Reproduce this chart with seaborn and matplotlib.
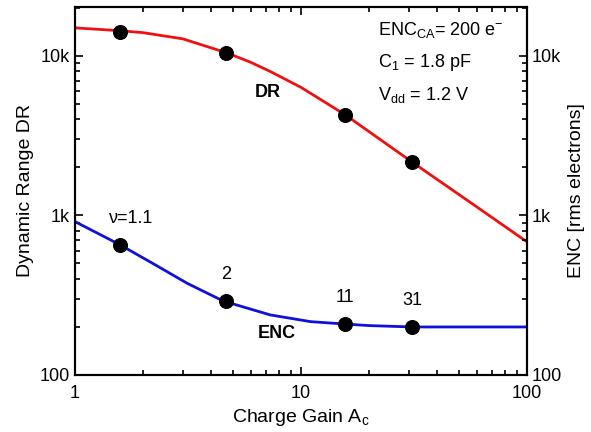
import numpy as np
import pandas as pd
import matplotlib
matplotlib.use("Agg")
import matplotlib.pyplot as plt
import matplotlib.ticker as mticker
import seaborn as sns

# curve values
dr_gain = [1, 1.58, 2, 3, 4.7, 5.95, 7.3, 10, 15.7, 31, 64, 100]
dr_curve = [15000, 14400, 14000, 12800, 10450, 9160, 8000, 6350, 4270, 2160, 1060, 682]
enc_gain = [1, 1.58, 2.21, 3.13, 4.52, 7.3, 11, 15.3, 20, 31, 50, 100]
enc_curve = [915, 655, 500, 376, 291, 238, 216, 209, 204, 200, 200, 200]

# measured points
gain_pts = [1.58, 4.66, 15.7, 31]
dr_pts = [14100, 10500, 4270, 2160]
enc_pts = [653, 291, 209, 200]
nu_labels = ["ν=1.1", "2", "11", "31"]

sns.set_style("ticks")
plt.rcParams['font.family'] = ['Liberation Sans', 'DejaVu Sans']
plt.rcParams['mathtext.fontset'] = 'custom'
plt.rcParams['mathtext.rm'] = 'Liberation Sans'
plt.rcParams['mathtext.it'] = 'Liberation Sans:italic'
for k in ['text.color', 'axes.labelcolor', 'xtick.color', 'ytick.color', 'axes.edgecolor']:
    plt.rcParams[k] = 'black'

fig = plt.figure(figsize=(5.91, 4.32), dpi=100)
ax = fig.add_axes([0.127, 0.132, 0.765, 0.852])
ax2 = ax.twinx()

dr_df = pd.DataFrame({"gain": dr_gain, "dr": dr_curve})
enc_df = pd.DataFrame({"gain": enc_gain, "enc": enc_curve})
pts = pd.DataFrame({"gain": gain_pts, "dr": dr_pts, "enc": enc_pts})

sns.lineplot(data=dr_df, x="gain", y="dr", color="#ee1111", linewidth=2, ax=ax)
sns.scatterplot(data=pts, x="gain", y="dr", color="black", s=100, edgecolor="black", ax=ax, zorder=3)
sns.lineplot(data=enc_df, x="gain", y="enc", color="#1010dd", linewidth=2, ax=ax2)
sns.scatterplot(data=pts, x="gain", y="enc", color="black", s=100, edgecolor="black", ax=ax2, zorder=3)

fmt = mticker.FuncFormatter(lambda v, p: {100: "100", 1000: "1k", 10000: "10k"}.get(int(round(v)), ""))
for a in (ax, ax2):
    a.set_xscale("log")
    a.set_yscale("log")
    a.set_xlim(1, 100)
    a.set_ylim(100, 20300)
    a.yaxis.set_major_formatter(fmt)
    a.yaxis.set_minor_formatter(mticker.NullFormatter())
    a.tick_params(which="both", direction="in", labelsize=13, width=1.2)
    a.tick_params(which="major", length=6)
    a.tick_params(which="minor", length=3.5)
    for s in a.spines.values():
        s.set_linewidth(1.5)

ax.xaxis.set_major_formatter(mticker.FuncFormatter(lambda v, p: f"{v:g}"))
ax.tick_params(axis="x", which="both", top=True, pad=7)
ax.tick_params(axis="y", which="both", right=False)
ax2.tick_params(axis="y", which="both", left=False)

ax.set_xlabel("Charge Gain A$_\\mathrm{c}$", fontsize=14)
ax.set_ylabel("Dynamic Range DR", fontsize=14)
ax2.set_ylabel("ENC [rms electrons]", fontsize=14, labelpad=4)

ax.text(7.14, 5940, "DR", fontsize=13, fontweight="bold", ha="center", va="center")
ax2.text(7.83, 183, "ENC", fontsize=13, fontweight="bold", ha="center", va="center")

for i, lab in enumerate(nu_labels):
    dx = 8 if i == 0 else 0
    ax2.annotate(lab, (gain_pts[i], enc_pts[i]), xytext=(dx, 19), textcoords="offset points",
                 ha="center", va="center", fontsize=13)

ax.text(0.67, 0.937, "ENC$_\\mathrm{CA}$= 200 e$^\\mathrm{-}$", transform=ax.transAxes, fontsize=13, va="center")
ax.text(0.67, 0.848, "C$_\\mathrm{1}$ = 1.8 pF", transform=ax.transAxes, fontsize=13, va="center")
ax.text(0.67, 0.761, "V$_\\mathrm{dd}$ = 1.2 V", transform=ax.transAxes, fontsize=13, va="center")

fig.savefig("out.png", dpi=100)
